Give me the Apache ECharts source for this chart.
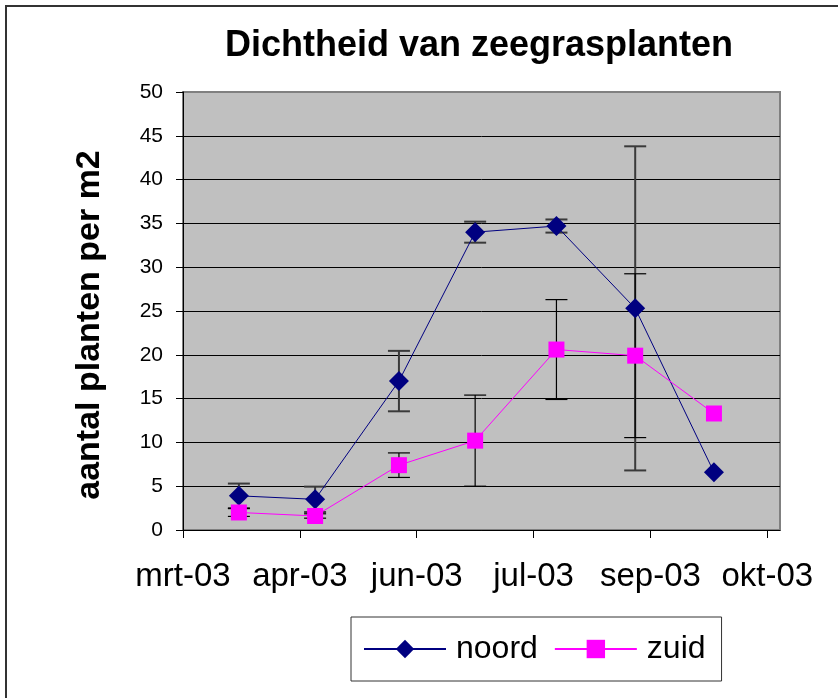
<!DOCTYPE html>
<html>
<head>
<meta charset="utf-8">
<script src="https://cdn.jsdelivr.net/npm/echarts@6/dist/echarts.min.js"></script>
<style>
html,body{margin:0;padding:0;background:#fff;}
#chart{width:838px;height:698px;}
</style>
</head>
<body>
<div id="chart"></div>
<script>
// Axis ticks: days since 1 March 2003 (date axis with 46-day major unit)
const tickDays = [0, 46, 92, 138, 184, 230];
const tickLabels = ['mrt-03', 'apr-03', 'jun-03', 'jul-03', 'sep-03', 'okt-03'];
// Sampling moments (days since 1 March 2003)
const sampleDays = [22, 52, 85, 115, 147, 178, 209];
// Series values
const noord = [3.9, 3.5, 17.0, 34.0, 34.7, 25.3, 6.6];
const noordErr = [1.4, 1.45, 3.45, 1.2, 0.75, 18.5, 0];
const zuid = [2.0, 1.6, 7.4, 10.2, 20.6, 19.9, 13.3];
const zuidErr = [0.45, 0.25, 1.4, 5.2, 5.7, 9.35, 0];

const FONT = '"Liberation Sans", Arial, sans-serif';

function errItems(vals, errs) {
  return vals.map((v, i) => [sampleDays[i], v - errs[i], v + errs[i]]);
}
function errRender(color, width) {
  return function (params, api) {
    const x = api.value(0), lo = api.value(1), hi = api.value(2);
    if (hi - lo <= 0) return null;
    const pLo = api.coord([x, lo]);
    const pHi = api.coord([x, hi]);
    const hw = 11;
    const style = { stroke: color, lineWidth: width };
    return {
      type: 'group',
      children: [
        { type: 'line', shape: { x1: pHi[0], y1: pHi[1], x2: pLo[0], y2: pLo[1] }, style },
        { type: 'line', shape: { x1: pHi[0] - hw, y1: pHi[1], x2: pHi[0] + hw, y2: pHi[1] }, style },
        { type: 'line', shape: { x1: pLo[0] - hw, y1: pLo[1], x2: pLo[0] + hw, y2: pLo[1] }, style }
      ]
    };
  };
}

const splitColors = [];
for (let i = 0; i < 10; i++) splitColors.push('#000000');
splitColors.push('#808080');

const chart = echarts.init(document.getElementById('chart'), null, { renderer: 'canvas' });
chart.setOption({
  animation: false,
  backgroundColor: '#ffffff',
  title: {
    text: 'Dichtheid van zeegrasplanten',
    left: 474,
    top: 23,
    textAlign: 'center',
    textStyle: { fontFamily: FONT, fontSize: 36, fontWeight: 'bold', color: '#000' }
  },
  graphic: [
    {
      type: 'rect', z: -10, silent: true,
      shape: { x: 6, y: 6, width: 900, height: 800 },
      style: { fill: 'none', stroke: '#333', lineWidth: 2 }
    },
    {
      type: 'text', x: 90, y: 325, rotation: Math.PI / 2,
      style: {
        text: 'aantal planten per m2', align: 'center', verticalAlign: 'middle',
        font: 'bold 34px ' + FONT, fill: '#000'
      }
    }
  ],
  grid: {
    left: 183, top: 92, right: 58, bottom: 168,
    show: true, backgroundColor: '#C0C0C0', borderColor: '#808080', borderWidth: 2
  },
  legend: {
    left: 351, top: 617,
    orient: 'horizontal',
    itemWidth: 82, itemHeight: 23, itemGap: 16,
    padding: [16, 16, 16, 12],
    borderColor: '#333', borderWidth: 1,
    textStyle: { fontFamily: FONT, fontSize: 32, color: '#000', padding: [0, 0, 0, 5] },
    data: ['noord', 'zuid']
  },
  xAxis: {
    type: 'value', min: 0, max: 235,
    axisLine: { show: true, lineStyle: { color: '#000', width: 1 } },
    axisTick: { show: true, length: 8, lineStyle: { color: '#000' }, customValues: tickDays },
    axisLabel: {
      customValues: tickDays,
      margin: 30,
      fontFamily: FONT, fontSize: 33, color: '#000',
      formatter: function (v) { const i = tickDays.indexOf(v); return i >= 0 ? tickLabels[i] : ''; }
    },
    splitLine: { show: false }
  },
  yAxis: {
    type: 'value', min: 0, max: 50, interval: 5,
    axisLine: { show: true, lineStyle: { color: '#000', width: 1 } },
    axisTick: { show: true, length: 7, lineStyle: { color: '#000' } },
    axisLabel: { margin: 20, fontFamily: FONT, fontSize: 21, color: '#000' },
    splitLine: { show: true, lineStyle: { color: splitColors, width: 1 } }
  },
  series: [
    {
      type: 'custom', name: 'noordErr', z: 2,
      renderItem: errRender('#3a3a3a', 2),
      encode: { x: 0, y: [1, 2] },
      data: errItems(noord, noordErr)
    },
    {
      type: 'custom', name: 'zuidErr', z: 2,
      renderItem: errRender('#000000', 1.2),
      encode: { x: 0, y: [1, 2] },
      data: errItems(zuid, zuidErr)
    },
    {
      type: 'line', name: 'noord', z: 3,
      data: sampleDays.map((d, i) => [d, noord[i]]),
      symbol: 'diamond', symbolSize: [20, 20],
      lineStyle: { color: '#000080', width: 1 },
      itemStyle: { color: '#000080' }
    },
    {
      type: 'line', name: 'zuid', z: 4,
      data: sampleDays.map((d, i) => [d, zuid[i]]),
      symbol: 'rect', symbolSize: 16,
      lineStyle: { color: '#FF00FF', width: 1 },
      itemStyle: { color: '#FF00FF' }
    }
  ]
});
</script>
</body>
</html>
